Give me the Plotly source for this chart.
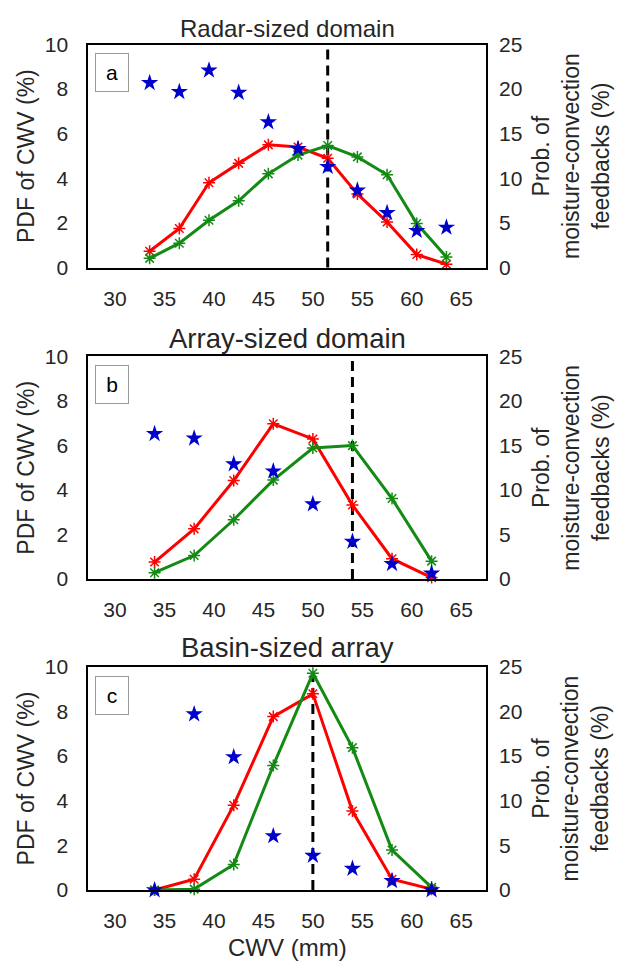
import plotly.graph_objects as go

# ---------------- data ----------------
cwv_a = [33.5, 36.5, 39.5, 42.5, 45.5, 48.5, 51.5, 54.5, 57.5, 60.5, 63.5]
red_a = [0.73, 1.75, 3.8, 4.67, 5.5, 5.4, 4.9, 3.3, 2.04, 0.58, 0.15]
green_a = [0.41, 1.09, 2.12, 2.99, 4.2, 5.04, 5.47, 4.96, 4.16, 1.97, 0.47]
prob_a = [20.7, 19.7, 22.1, 19.6, 16.3, 13.3, 11.3, 8.65, 6.13, 4.12, 4.49]
crit_a = 51.5

cwv_b = [34, 38, 42, 46, 50, 54, 58, 62]
red_b = [0.76, 2.25, 4.42, 6.97, 6.29, 3.32, 0.91, 0.06]
green_b = [0.28, 1.05, 2.66, 4.44, 5.88, 5.99, 3.61, 0.80]
prob_b = [16.3, 15.8, 12.9, 12.1, 8.4, 4.2, 1.7, 0.62]
crit_b = 54

cwv_c = [34, 38, 42, 46, 50, 54, 58, 62]
red_c = [0.0, 0.48, 3.8, 7.77, 8.79, 3.54, 0.48, 0.04]
green_c = [0.0, 0.04, 1.14, 5.58, 9.71, 6.38, 1.79, 0.12]
prob_c = [0.0, 19.7, 14.9, 6.05, 3.86, 2.4, 1.02, 0.0]
crit_c = 50

titles = ["Radar-sized domain", "Array-sized domain", "Basin-sized array"]
title_sizes = [24, 27.5, 27.5]
letters = ["a", "b", "c"]
x_ticks = [30, 35, 40, 45, 50, 55, 60, 65]
left_ticks = [0, 2, 4, 6, 8, 10]
right_ticks = [0, 5, 10, 15, 20, 25]

panels = [
    (cwv_a, red_a, green_a, prob_a, crit_a),
    (cwv_b, red_b, green_b, prob_b, crit_b),
    (cwv_c, red_c, green_c, prob_c, crit_c),
]

# ---------------- layout geometry (pixels) ----------------
W, H = 620, 972
x_left_px, x_right_px = 88.3, 486.0
panel_px = [(33.3, 261.7), (352.7, 580.7), (670.7, 899.3)]
title_px = [17, 334, 651]

RED = "#ff0000"
GREEN = "#138a13"
BLUE = "#0000cc"
TXT = "#262626"
FONT = "Liberation Sans, Arial, sans-serif"
TICK = 21

fig = go.Figure()
layout = dict(
    width=W, height=H,
    margin=dict(l=0, r=0, t=0, b=0),
    paper_bgcolor="white", plot_bgcolor="white",
    showlegend=False,
    font=dict(family=FONT, color=TXT, size=20),
)
annotations = []
shapes = []

xd = [x_left_px / W, x_right_px / W]
for i, (cwv, red, green, prob, crit) in enumerate(panels):
    top, bot = panel_px[i]
    yd = [1 - bot / H, 1 - top / H]
    xa = "x" if i == 0 else f"x{i+1}"
    yl_n = 2 * i + 1
    yr_n = 2 * i + 2
    yl = "y" if yl_n == 1 else f"y{yl_n}"
    yr = f"y{yr_n}"
    xkey = "xaxis" if i == 0 else f"xaxis{i+1}"
    ylkey = "yaxis" if yl_n == 1 else f"yaxis{yl_n}"
    yrkey = f"yaxis{yr_n}"

    layout[xkey] = dict(
        domain=xd, anchor=yl, range=[27.3, 67.5],
        tickmode="array", tickvals=x_ticks,
        showgrid=False, zeroline=False,
        showline=True, linecolor="black", linewidth=2, mirror=True,
        ticks="", ticklabelstandoff=11,
        tickfont=dict(size=TICK, color=TXT, family=FONT),
    )
    layout[ylkey] = dict(
        domain=yd, anchor=xa, range=[0, 10],
        tickmode="array", tickvals=left_ticks,
        showgrid=False, zeroline=False,
        showline=True, linecolor="black", linewidth=2, mirror=True,
        ticks="", ticklabelstandoff=14,
        tickfont=dict(size=TICK, color=TXT, family=FONT),
    )
    layout[yrkey] = dict(
        domain=yd, anchor=xa, overlaying=yl, side="right", range=[0, 25],
        tickmode="array", tickvals=right_ticks,
        showgrid=False, zeroline=False,
        showline=False,
        ticks="", ticklabelstandoff=12,
        tickfont=dict(size=TICK, color=TXT, family=FONT),
    )

    # dashed critical line
    shapes.append(dict(
        type="line", xref=xa, yref=f"{yl} domain", x0=crit, x1=crit, y0=0, y1=1,
        line=dict(color="black", width=3, dash="10px,6px"), layer="below",
    ))

    fig.add_trace(go.Scatter(
        x=cwv, y=red, xaxis=xa, yaxis=yl, mode="lines+markers",
        line=dict(color=RED, width=3), cliponaxis=False,
        marker=dict(symbol="asterisk-open", size=10, color=RED,
                    line=dict(color=RED, width=1.5)),
    ))
    fig.add_trace(go.Scatter(
        x=cwv, y=green, xaxis=xa, yaxis=yl, mode="lines+markers",
        line=dict(color=GREEN, width=3), cliponaxis=False,
        marker=dict(symbol="asterisk-open", size=10, color=GREEN,
                    line=dict(color=GREEN, width=1.5)),
    ))
    fig.add_trace(go.Scatter(
        x=cwv, y=prob, xaxis=xa, yaxis=yr, mode="markers", cliponaxis=False,
        marker=dict(symbol="star", size=13, color=BLUE, line=dict(width=0)),
    ))

    # panel title
    annotations.append(dict(
        text=titles[i], xref="paper", yref="paper",
        x=(x_left_px + x_right_px) / 2 / W, y=1 - title_px[i] / H,
        xanchor="center", yanchor="middle", showarrow=False,
        font=dict(size=title_sizes[i], color=TXT, family=FONT),
    ))
    # panel letter box
    annotations.append(dict(
        text=letters[i], xref="paper", yref="paper",
        x=95 / W, y=1 - (top + 9) / H, xanchor="left", yanchor="top",
        showarrow=False, width=30, height=35, borderpad=1,
        bordercolor="#9a9a9a", borderwidth=1, bgcolor="white",
        font=dict(size=21, color="black", family=FONT),
    ))
    # left axis title
    annotations.append(dict(
        text="PDF of CWV (%)", xref="paper", yref="paper",
        x=26 / W, y=1 - (top + bot) / 2 / H, xanchor="center", yanchor="middle",
        textangle=-90, showarrow=False,
        font=dict(size=23, color=TXT, family=FONT),
    ))
    # right axis title
    annotations.append(dict(
        text="Prob. of<br>moisture-convection<br>feedbacks (%)",
        xref="paper", yref="paper",
        x=571 / W, y=1 - (top + bot) / 2 / H, xanchor="center", yanchor="middle",
        textangle=-90, showarrow=False,
        font=dict(size=23, color=TXT, family=FONT),
    ))

# x-axis title
annotations.append(dict(
    text="CWV (mm)", xref="paper", yref="paper",
    x=(x_left_px + x_right_px) / 2 / W, y=1 - 958 / H,
    xanchor="center", yanchor="middle", showarrow=False,
    font=dict(size=24, color=TXT, family=FONT),
))

layout["annotations"] = annotations
layout["shapes"] = shapes
fig.update_layout(**layout)
fig.write_html("out.html")
